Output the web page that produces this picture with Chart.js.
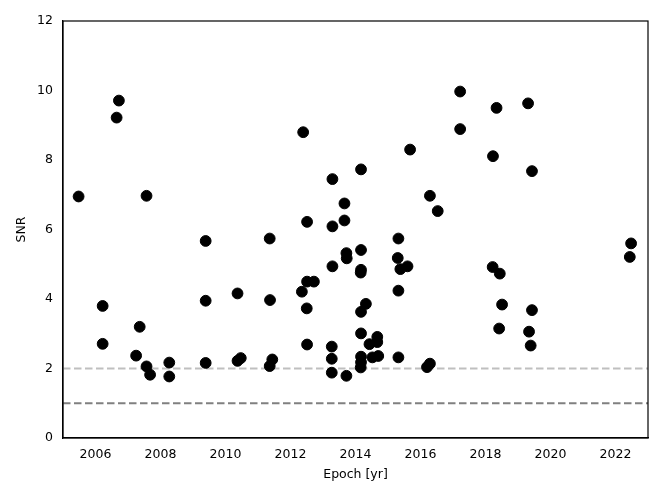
<!DOCTYPE html>
<html><head><meta charset="utf-8">
<script src="https://cdn.jsdelivr.net/npm/chart.js@4/dist/chart.umd.min.js"></script>
<style>html,body{margin:0;padding:0;background:#fff}#wrap{width:664px;height:498px}</style>
</head><body><div id="wrap"><canvas id="c" width="664" height="498"></canvas></div>
<script>
const epochs = [2005.48,2006.22,2006.22,2006.72,2006.65,2007.57,2007.36,2007.25,2007.57,2007.68,
2008.27,2008.27,2009.39,2009.39,2009.39,2010.37,2010.37,2010.47,2011.36,2011.37,2011.36,2011.44,
2012.35,2012.39,2012.51,2012.72,2012.50,2012.51,2012.51,2013.29,2013.29,2013.29,2013.27,2013.27,2013.27,
2013.66,2013.66,2013.72,2013.73,2013.72,2014.17,2014.17,2014.17,2014.16,2014.32,2014.17,2014.17,2014.43,
2014.67,2014.67,2014.17,2014.17,2014.16,2014.52,2014.70,2015.32,2015.30,2015.38,2015.60,2015.32,2015.32,
2015.68,2016.20,2016.29,2016.29,2016.53,2017.22,2017.22,2018.23,2018.34,2018.22,2018.44,2018.51,2018.42,
2019.31,2019.43,2019.43,2019.34,2019.39,2022.48,2022.44];
const snr = [6.95,3.80,2.71,9.71,9.22,6.97,3.20,2.37,2.06,1.82,
2.17,1.77,5.67,3.95,2.16,4.16,2.22,2.30,5.74,3.97,2.07,2.26,
4.21,8.80,4.50,4.50,3.73,6.22,2.69,7.45,6.09,4.94,2.63,2.28,1.88,
6.75,6.26,5.32,5.17,1.79,7.73,5.41,4.84,4.76,3.86,3.63,3.01,2.70,
2.91,2.76,2.34,2.18,2.03,2.32,2.36,5.74,5.18,4.86,4.94,4.24,2.32,
8.30,2.04,2.14,6.97,6.53,9.97,8.89,8.11,9.50,4.92,4.73,3.84,3.15,
9.63,7.68,3.68,3.06,2.66,5.60,5.21];
const thresholds = [2, 1];
const xLimits = [2005.0, 2023.0];
const yLimits = [0, 12];
const xTicks = [2006,2008,2010,2012,2014,2016,2018,2020,2022];
const yTicks = [0,2,4,6,8,10,12];

const font = {family:'"DejaVu Sans"', size:12.5};
const frame = {id:'frame', afterDatasetsDraw(ch){const a=ch.chartArea,c=ch.ctx;c.save();c.strokeStyle='#000';c.lineWidth=1.2;c.strokeRect(a.left,a.top,a.right-a.left,a.bottom-a.top);c.restore();}};

new Chart(document.getElementById('c'), {
  type:'scatter',
  data:{datasets:[
    {data:epochs.map((x,i)=>({x:x,y:snr[i]})), backgroundColor:'#000', borderColor:'#000', pointRadius:5.4, pointHoverRadius:5.4, order:0},
    {type:'line', data:xLimits.map(x=>({x:x,y:thresholds[0]})), borderColor:'#bfbfbf', borderWidth:1.8, borderDash:[7.5,3.5], pointRadius:0, order:1},
    {type:'line', data:xLimits.map(x=>({x:x,y:thresholds[1]})), borderColor:'#808080', borderWidth:1.8, borderDash:[7.5,3.5], pointRadius:0, order:2}
  ]},
  options:{
    responsive:false, animation:false, devicePixelRatio:1,
    layout:{padding:{left:0,right:16,top:21,bottom:16}},
    plugins:{legend:{display:false},tooltip:{enabled:false}},
    scales:{
      x:{type:'linear', min:xLimits[0], max:xLimits[1],
        afterBuildTicks(s){s.ticks=xTicks.map(v=>({value:v}));},
        afterFit(s){s.height=44;},
        grid:{display:false, drawTicks:true, tickLength:5, tickColor:'#000'},
        border:{color:'#000', width:1.2},
        ticks:{color:'#000', font:font, padding:4, maxRotation:0, autoSkip:false, callback:v=>String(v)},
        title:{display:true, text:'Epoch [yr]', color:'#000', font:font, padding:{top:2,bottom:0}}},
      y:{type:'linear', min:yLimits[0], max:yLimits[1],
        afterBuildTicks(s){s.ticks=yTicks.map(v=>({value:v}));},
        afterFit(s){s.width=63;},
        grid:{display:false, drawTicks:true, tickLength:5, tickColor:'#000'},
        border:{color:'#000', width:1.2},
        ticks:{color:'#000', font:font, padding:5, callback:v=>String(v)},
        title:{display:true, text:'SNR', color:'#000', font:font, padding:{top:14,bottom:4}}}
    }
  },
  plugins:[frame]
});
</script></body></html>
